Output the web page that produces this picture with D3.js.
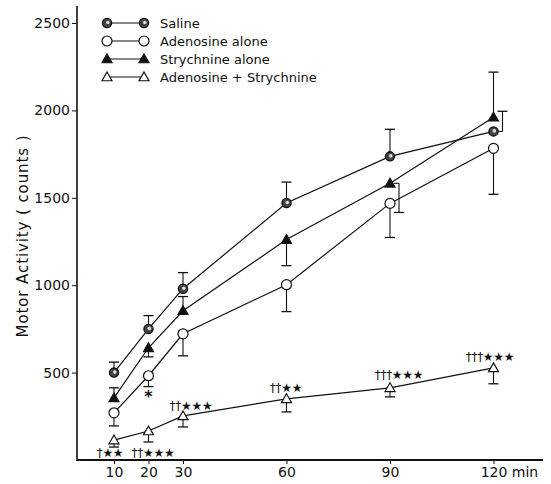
<!DOCTYPE html>
<html>
<head>
<meta charset="utf-8">
<script src="https://cdn.jsdelivr.net/npm/d3@7/dist/d3.min.js"></script>
<style>
  html, body { margin: 0; padding: 0; background: #fff; }
  svg { display: block; }
  text { font-family: "DejaVu Sans", "Liberation Sans", sans-serif; fill: #111; }
</style>
</head>
<body>
<svg id="chart" width="551" height="484"></svg>
<script>
// ---- data ----
const times = [10, 20, 30, 60, 90, 120];
const seriesNames = ["Saline", "Adenosine alone", "Strychnine alone", "Adenosine + Strychnine"];
const salineMean = [500, 750, 980, 1470, 1737, 1880];
const salineErr  = [560, 826, 1072, 1590, 1892, 1995];
const adenoMean  = [270, 482, 722, 1003, 1468, 1783];
const adenoErr   = [195, 420, 596, 849, 1273, 1520];
const strychMean = [355, 642, 854, 1261, 1583, 1961];
const strychErr  = [413, 590, 935, 1112, 1416, 2219];
const comboMean  = [114, 166, 252, 350, 413, 527];
const comboErr   = [74, 103, 189, 275, 361, 436];
const yTicks = [500, 1000, 1500, 2000, 2500];
const xTicks = [10, 20, 30, 60, 90, 120];
const annTimes = [10, 20, 30, 60, 90, 120];
const annText = ["†★★", "††★★★", "††★★★", "††★★", "†††★★★", "†††★★★"];

// ---- layout ----
const svg = d3.select("#chart");
const x = d3.scaleLinear().domain([0, 120]).range([79.5, 493.5]);
const y = d3.scaleLinear().domain([0, 2500]).range([460, 23]);
const ink = "#111";

// axes
const gx = svg.append("g").attr("transform", "translate(0,460)")
  .call(d3.axisBottom(x).tickValues(xTicks).tickFormat(d3.format("d")).tickSize(4).tickSizeOuter(0));
gx.select(".domain").remove();
gx.selectAll("line").attr("stroke", ink);
gx.selectAll("text").attr("font-size", 14).attr("fill", ink).style("font-family", "DejaVu Sans, sans-serif");
svg.append("line").attr("x1", 77).attr("x2", 543).attr("y1", 460).attr("y2", 460)
  .attr("stroke", ink).attr("stroke-width", 2);
svg.append("text").attr("x", 525).attr("y", 477).attr("text-anchor", "middle")
  .attr("font-size", 14).text("min");

const gy = svg.append("g").attr("transform", "translate(77,0)")
  .call(d3.axisLeft(y).tickValues(yTicks).tickFormat(d3.format("d")).tickSize(5).tickSizeOuter(0));
gy.select(".domain").remove();
gy.selectAll("line").attr("stroke", ink);
gy.selectAll("text").attr("font-size", 14).attr("x", -7).attr("fill", ink).style("font-family", "DejaVu Sans, sans-serif");
svg.append("line").attr("x1", 77).attr("x2", 77).attr("y1", 6).attr("y2", 461)
  .attr("stroke", ink).attr("stroke-width", 1.6);

svg.append("text").attr("transform", "translate(28,236) rotate(-90)")
  .attr("text-anchor", "middle").attr("font-size", 15).attr("letter-spacing", 0.9)
  .text("Motor  Activity   ( counts )");

// markers
function marker(g, type, cx, cy) {
  if (type === 0) {
    g.append("circle").attr("cx", cx).attr("cy", cy).attr("r", 4.6)
      .attr("fill", "#444").attr("stroke", ink).attr("stroke-width", 1.3);
    g.append("circle").attr("cx", cx + 0.8).attr("cy", cy - 0.5).attr("r", 1.8)
      .attr("fill", "#ddd");
  } else if (type === 1) {
    g.append("circle").attr("cx", cx).attr("cy", cy).attr("r", 5)
      .attr("fill", "#fff").attr("stroke", ink).attr("stroke-width", 1.2);
  } else {
    const s = 5;
    g.append("path")
      .attr("d", `M${cx},${cy - s} L${cx + s},${cy + s * 0.75} L${cx - s},${cy + s * 0.75} Z`)
      .attr("fill", type === 2 ? ink : "#fff").attr("stroke", ink).attr("stroke-width", 1.2);
  }
}

const series = [
  { mean: salineMean, err: salineErr },
  { mean: adenoMean, err: adenoErr },
  { mean: strychMean, err: strychErr },
  { mean: comboMean, err: comboErr }
];

const line = d3.line().x(d => x(d[0])).y(d => y(d[1]));

series.forEach((s, si) => {
  const g = svg.append("g");
  s.err.forEach((e, i) => {
    let ex = x(times[i]);
    const my = y(s.mean[i]);
    let off = 0;
    if (si === 0 && i === 5) off = 9;
    if (si === 2 && i === 4) off = 9;
    if (off) {
      g.append("line").attr("x1", ex + 4).attr("x2", ex + off).attr("y1", my).attr("y2", my)
        .attr("stroke", ink).attr("stroke-width", 1.1);
      ex += off;
    }
    g.append("line").attr("x1", ex).attr("x2", ex).attr("y1", my).attr("y2", y(e))
      .attr("stroke", ink).attr("stroke-width", 1.1);
    g.append("line").attr("x1", ex - 5).attr("x2", ex + 5).attr("y1", y(e)).attr("y2", y(e))
      .attr("stroke", ink).attr("stroke-width", 1.3);
  });
  g.append("path").datum(times.map((t, i) => [t, s.mean[i]]))
    .attr("d", line).attr("fill", "none").attr("stroke", ink).attr("stroke-width", 1.2);
  times.forEach((t, i) => marker(g, si, x(t), y(s.mean[i])));
});

// significance annotations
const annPos = [[110, 457], [153, 457], [191, 410], [286, 392], [399, 379], [490, 361]];
annTimes.forEach((t, i) => {
  svg.append("text").attr("x", annPos[i][0]).attr("y", annPos[i][1])
    .attr("text-anchor", "middle").attr("font-size", 12).attr("letter-spacing", -0.3)
    .attr("fill", ink).text(annText[i]);
});
svg.append("text").attr("x", x(20)).attr("y", 402).attr("text-anchor", "middle")
  .attr("font-size", 16).attr("font-weight", "bold").text("*");

// legend
const legY = [23, 41, 59, 77];
seriesNames.forEach((n, i) => {
  const g = svg.append("g");
  g.append("line").attr("x1", 108).attr("x2", 143).attr("y1", legY[i]).attr("y2", legY[i])
    .attr("stroke", ink).attr("stroke-width", 1.1);
  marker(g, i, 107, legY[i]);
  marker(g, i, 144, legY[i]);
  g.append("text").attr("x", 160).attr("y", legY[i] + 5).attr("font-size", 13).text(n);
});
</script>
</body>
</html>
